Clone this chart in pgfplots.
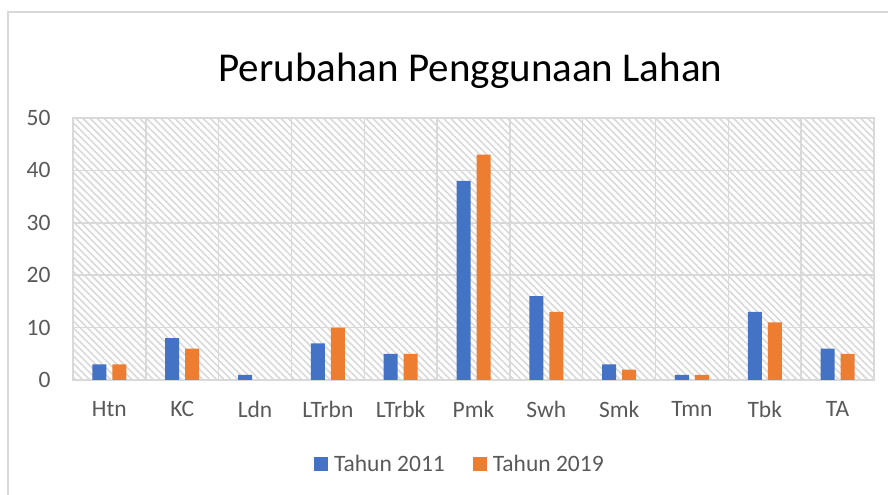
\documentclass[border=0pt]{standalone}
\usepackage{pgfplots}
\pgfplotsset{compat=1.18}
\usepackage{fontspec}
\setmainfont{Carlito}
\usetikzlibrary{patterns.meta}
\definecolor{cblue}{RGB}{68,114,196}
\definecolor{corange}{RGB}{237,125,49}
\definecolor{gridgray}{RGB}{217,217,217}
\definecolor{txtgray}{RGB}{89,89,89}
\begin{document}
\begin{tikzpicture}
\useasboundingbox (0,0) rectangle (888bp,495bp);
\draw[gridgray, line width=1.5bp] (8bp,0) -- (8bp,483bp) -- (888bp,483bp);
\node[anchor=base, font=\fontsize{41bp}{46bp}\selectfont, text=black] at (470.5bp,413bp) {Perubahan Penggunaan Lahan};
\begin{axis}[
  at={(73bp,115bp)}, anchor=south west,
  scale only axis, width=801bp, height=262bp,
  xmin=-0.5, xmax=10.5, ymin=0, ymax=50,
  xtick={0,...,10},
  xticklabels={Htn,KC,Ldn,LTrbn,LTrbk,Pmk,Swh,Smk,Tmn,Tbk,TA},
  minor xtick={-0.5,0.5,...,10.5},
  ytick={0,10,...,50},
  major x tick style={draw=none}, minor tick length=0pt, major tick length=0pt,
  xmajorgrids=false, xminorgrids=true, ymajorgrids=true,
  grid style={gridgray, line width=1.5bp},
  minor grid style={gridgray, line width=1.5bp},
  axis line style={gridgray, line width=1.5bp},
  axis background/.style={pattern={Lines[angle=-45, distance=5bp, line width=1.6bp]}, pattern color=gridgray},
  tick label style={font=\fontsize{23.5bp}{28bp}\selectfont, text=txtgray},
  /pgf/number format/assume math mode=true,
  xticklabel style={yshift=-18bp},
  yticklabel style={xshift=-19bp},
  ybar=6bp, bar width=14bp,
  legend columns=2,
  legend style={at={(0.483,-0.32)}, anchor=center, draw=none, fill=none,
    font=\fontsize{23.5bp}{28bp}\selectfont, text=txtgray,
    /tikz/every even column/.append style={column sep=26bp}},
  legend image code/.code={\fill[#1] (0bp,-7bp) rectangle (14bp,7bp);},
  legend style={/tikz/every odd column/.append style={column sep=4bp}},
]
\addplot[fill=cblue, draw=none] coordinates {(0,3) (1,8) (2,1) (3,7) (4,5) (5,38) (6,16) (7,3) (8,1) (9,13) (10,6)};
\addplot[fill=corange, draw=none] coordinates {(0,3) (1,6) (2,0) (3,10) (4,5) (5,43) (6,13) (7,2) (8,1) (9,11) (10,5)};
\legend{Tahun 2011, Tahun 2019}
\end{axis}
\end{tikzpicture}
\end{document}
